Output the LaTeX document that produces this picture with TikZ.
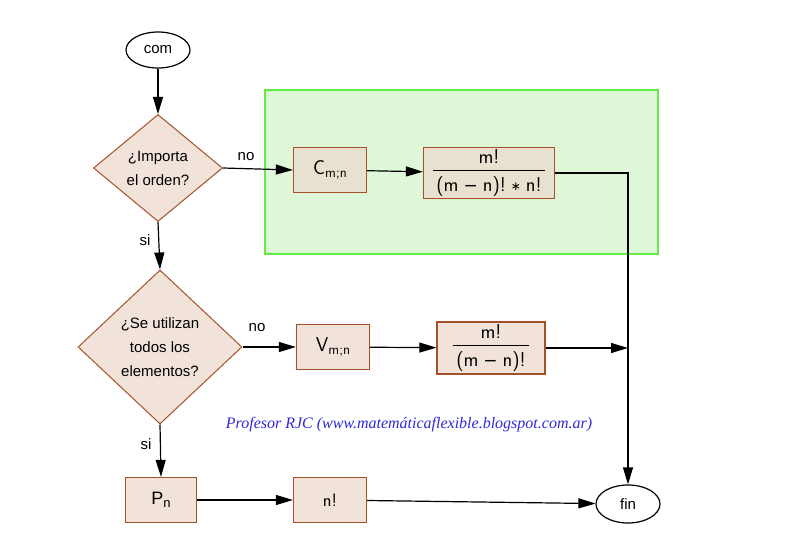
\documentclass[tikz,border=0pt]{standalone}
\usepackage{fontspec}
\setmainfont{Liberation Sans}
\newfontfamily\firmafont{Liberation Serif}
\newfontfamily\simbfont{DejaVu Sans}
\usetikzlibrary{shapes.geometric,arrows.meta}
\definecolor{borde}{RGB}{165,80,40}
\definecolor{relleno}{RGB}{236,218,204}
\definecolor{verdeborde}{RGB}{100,235,70}
\definecolor{verdefondo}{RGB}{222,247,216}
\definecolor{azulfirma}{RGB}{50,40,215}
% letra con subindice y fraccion en sans
\newcommand{\conind}[2]{{\sffamily\fontsize{20}{22}\selectfont #1\raisebox{-3pt}{\fontsize{14}{14}\selectfont #2}}}
\newcommand{\fraccion}[2]{{\sffamily\fontsize{20}{22}\selectfont\setlength{\arrayrulewidth}{0.8pt}%
  \begin{tabular}{@{\,}c@{\,}}#1\\\hline\rule{0pt}{21pt}#2\end{tabular}}}
\newcommand{\menos}{\hspace{5pt}{\simbfont\fontsize{17}{17}\selectfont −}\hspace{5pt}}
\newcommand{\por}{\hspace{5pt}\raisebox{1pt}{\simbfont\fontsize{12}{12}\selectfont ∗}\hspace{5pt}}

\begin{document}
\begin{tikzpicture}[x=1pt, y=-1pt,
    font=\fontsize{15}{24}\selectfont,
    terminal/.style={ellipse, draw, fill=white, line width=1.2pt, minimum width=64pt, minimum height=36pt, inner sep=0pt},
    decision/.style={diamond, draw=borde, fill=relleno, fill opacity=0.75, text opacity=1, line width=1pt, align=center, inner sep=0pt},
    proceso/.style={rectangle, draw=borde, fill=relleno, fill opacity=0.75, text opacity=1, line width=1.3pt, minimum width=73pt, minimum height=45pt, inner sep=0pt},
    flecha/.style={-{Triangle[length=17pt,width=10pt]}, line width=1.2pt},
    etiqueta/.style={inner sep=0pt},
]
\useasboundingbox (0,0) rectangle (800,554);
% zona de combinaciones
\draw[fill=verdefondo, draw=verdeborde, line width=1.5pt] (265,90) rectangle (658,254);

\node[terminal]  (com)   at (158,50)  {com};
\node[decision, minimum width=129pt, minimum height=107pt] (orden) at (158,168) {¿Importa\\el orden?};
\node[proceso]   (comb)  at (330,170) {\conind{C}{m;n}};
\node[proceso, minimum width=131pt, minimum height=50pt] (fcomb) at (489,173) {\fraccion{m!}{(m\menos n)!\por n!}};

\node[decision, minimum width=164pt, minimum height=154pt] (todos) at (160,347) {¿Se utilizan\\todos los\\elementos?};
\node[proceso]   (var)   at (333,347) {\conind{V}{m;n}};
\node[proceso, minimum width=108pt, minimum height=52pt] (fvar) at (491,348) {\fraccion{m!}{(m\menos n)!}};

\node[proceso, minimum width=71pt] (perm) at (161,500) {\fontsize{18}{20}\selectfont P\raisebox{-3pt}{\fontsize{13}{13}\selectfont n}};
\node[proceso]   (fperm) at (330,500) {{\sffamily\fontsize{18}{20}\selectfont n!}};
\node[terminal, minimum height=38pt] (fin) at (628,504) {fin};

\node[etiqueta] (no1) at (246,157) {no};
\node[etiqueta] (si1) at (145,240) {si};
\node[etiqueta] (no2) at (257,328) {no};
\node[etiqueta] (si2) at (146,444) {si};
\node[etiqueta, text=azulfirma, font=\firmafont\itshape\fontsize{16}{18}\selectfont] (firma) at (409,425)
    {Profesor RJC (www.matemáticaflexible.blogspot.com.ar)};

\coordinate (union) at (fin.north |- fvar.east);

\draw[flecha] (com) -- (orden);
\draw[flecha] (orden.east) -- (comb.west);
\draw[flecha] (comb) -- (fcomb);
\draw[flecha] (fcomb.east) -| (fin.north);
\draw[flecha] (orden.south) -- (todos.north);
\draw[flecha] (todos.east) -- (var.west);
\draw[flecha] (var) -- (fvar);
\draw[flecha] (fvar.east) -- (union);
\draw[flecha] (todos.south) -- (perm.north);
\draw[flecha] (perm) -- (fperm);
\draw[flecha] (fperm) -- (fin);
\end{tikzpicture}
\end{document}
